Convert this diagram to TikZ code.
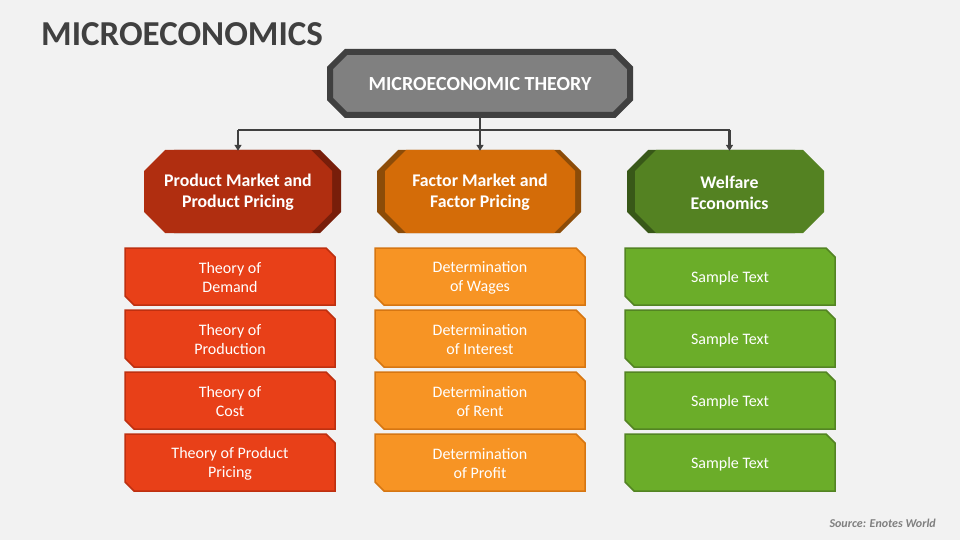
\documentclass[tikz,border=0pt]{standalone}
\usepackage{fontspec}
\setmainfont{Carlito}
\usetikzlibrary{arrows.meta}
\definecolor{bg}{RGB}{242,242,242}
\definecolor{ink}{RGB}{64,64,64}
\definecolor{topfill}{RGB}{128,128,128}
\definecolor{redhd}{RGB}{176,46,16}
\definecolor{redsh}{RGB}{120,30,10}
\definecolor{orhd}{RGB}{212,108,8}
\definecolor{orsh}{RGB}{140,76,8}
\definecolor{grhd}{RGB}{84,130,34}
\definecolor{grsh}{RGB}{56,88,24}
\definecolor{redbox}{RGB}{232,64,24}
\definecolor{redline}{RGB}{190,48,16}
\definecolor{orbox}{RGB}{247,148,36}
\definecolor{orline}{RGB}{214,118,18}
\definecolor{grbox}{RGB}{107,173,41}
\definecolor{grline}{RGB}{83,132,35}
\definecolor{srcgray}{RGB}{127,127,127}
% octagon: x1 y1 x2 y2 chamfer style
\newcommand\octo[6]{\path[#6] (#1+#5,#2) -- (#3-#5,#2) -- (#3,#2+#5) -- (#3,#4-#5) -- (#3-#5,#4) -- (#1+#5,#4) -- (#1,#4-#5) -- (#1,#2+#5) -- cycle;}
% snipped rectangle (NE and SW corners cut)
\newcommand\snipbox[6]{\path[#6] (#1,#2) -- (#3-#5,#2) -- (#3,#2+#5) -- (#3,#4) -- (#1+#5,#4) -- (#1,#4-#5) -- cycle;}
\begin{document}
\begin{tikzpicture}[x=1pt,y=-1pt,
  titletext/.style={font=\fontsize{35pt}{41pt}\selectfont\bfseries, text=ink, inner sep=0pt},
  toptext/.style={font=\fontsize{20pt}{24pt}\selectfont\bfseries, text=white, minimum width=300pt, minimum height=63pt, inner sep=0pt},
  hdtext/.style={font=\fontsize{17.8pt}{21pt}\selectfont\bfseries, text=white, align=center, minimum width=188pt, minimum height=83pt, inner sep=0pt},
  boxtext/.style={font=\fontsize{16pt}{19pt}\selectfont, text=white, align=center, minimum width=210pt, minimum height=57pt, inner sep=0pt},
  conn/.style={draw=ink, line width=2.4pt},
  srctext/.style={font=\fontsize{12pt}{14pt}\selectfont\bfseries\itshape, text=srcgray, inner sep=0pt}
]
\fill[bg] (0,0) rectangle (960,540);
\useasboundingbox (0,0) rectangle (960,540);

% title
\node[titletext, anchor=base west] (title) at (41,45.5) {MICROECONOMICS};

% top node shape
\octo{330}{52}{630}{115}{16}{fill=topfill, draw=ink, line width=6pt, line join=miter}
\node[toptext] (top) at (480,84) {MICROECONOMIC THEORY};

% header shapes
\octo{153}{150}{341}{233}{21}{fill=redsh}
\octo{144}{150}{332}{233}{21}{fill=redhd}
\octo{377}{150}{581}{233}{21}{fill=orsh}
\octo{385}{150}{575}{233}{21}{fill=orhd}
\octo{627}{150}{816}{233}{21}{fill=grsh}
\octo{635}{150}{824}{233}{21}{fill=grhd}

\node[hdtext] (h1) at (238,192.5) {Product Market and\\Product Pricing};
\node[hdtext] (h2) at (480,192.5) {Factor Market and\\Factor Pricing};
\node[hdtext] (h3) at (729.5,192.5) {Welfare\\Economics};

% connectors
\coordinate (hub) at (480,130);
\draw[conn] (top.south) -- (hub);
\draw[conn] (hub -| h1.north) -- (hub -| h3.north);
\foreach \h in {h1,h2,h3}
  \draw[conn, -{Triangle[length=6pt,width=7pt]}] (hub -| \h.north) -- (\h.north);

% boxes
\foreach \xa/\fc/\lc in {125/redbox/redline, 375/orbox/orline, 625/grbox/grline}{
  \foreach \ya in {248,310,372,434}{
    \snipbox{\xa}{\ya}{\xa+210}{\ya+57}{9}{fill=\fc, draw=\lc, line width=1.5pt}
  }
}

\node[boxtext] (b11) at (230,277.5) {Theory of\\Demand};
\node[boxtext] (b12) at (230,339.5) {Theory of\\Production};
\node[boxtext] (b13) at (230,401.5) {Theory of\\Cost};
\node[boxtext] (b14) at (230,463.5) {Theory of Product\\Pricing};

\node[boxtext] (b21) at (480,277.5) {Determination\\of Wages};
\node[boxtext] (b22) at (480,339.5) {Determination\\of Interest};
\node[boxtext] (b23) at (480,401.5) {Determination\\of Rent};
\node[boxtext] (b24) at (480,463.5) {Determination\\of Profit};

\node[boxtext] (b31) at (730,278) {Sample Text};
\node[boxtext] (b32) at (730,340) {Sample Text};
\node[boxtext] (b33) at (730,402) {Sample Text};
\node[boxtext] (b34) at (730,464) {Sample Text};

% source
\node[srctext, anchor=base east] (src) at (936,527) {Source: Enotes World};
\end{tikzpicture}
\end{document}
